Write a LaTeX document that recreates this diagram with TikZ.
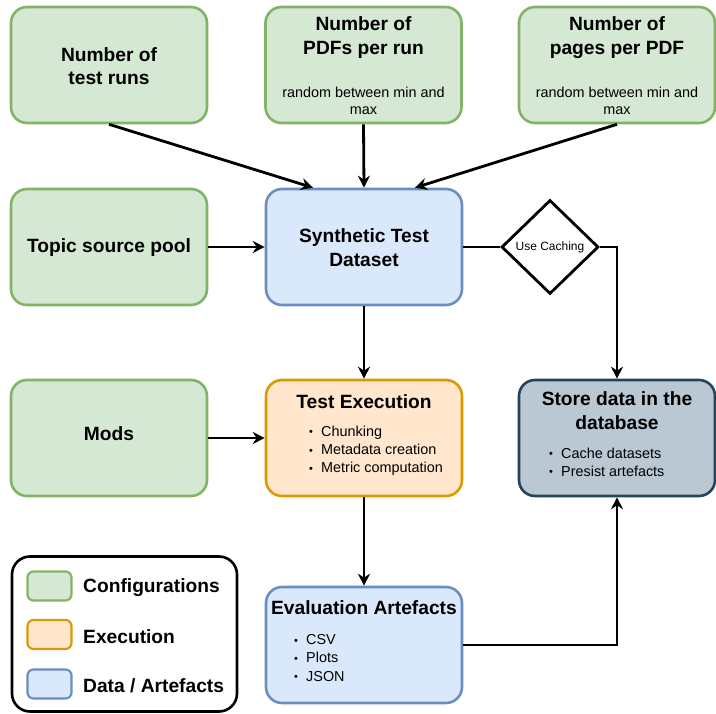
\documentclass[tikz,border=0pt]{standalone}
\usepackage{fontspec}
\setmainfont{Liberation Sans}
\usetikzlibrary{shapes.geometric,arrows.meta}
\definecolor{gF}{HTML}{D5E8D4}\definecolor{gD}{HTML}{82B366}
\definecolor{oF}{HTML}{FFE6CC}\definecolor{oD}{HTML}{D79B00}
\definecolor{bF}{HTML}{DAE8FC}\definecolor{bD}{HTML}{6C8EBF}
\definecolor{sF}{HTML}{BAC8D3}\definecolor{sD}{HTML}{23445D}
\newcommand{\itm}[1]{\makebox[12pt][l]{\fontsize{11}{11}\selectfont\raisebox{0.1ex}{•}}#1}
\begin{document}
\begin{tikzpicture}[x=1pt,y=-1pt,
  box/.style={draw, line width=2.6pt, rounded corners=16pt, minimum width=196pt, minimum height=116pt, inner sep=0pt},
  cfg/.style={box, draw=gD, fill=gF},
  exe/.style={box, draw=oD, fill=oF},
  dat/.style={box, draw=bD, fill=bF},
  sto/.style={box, draw=sD, fill=sF},
  ttl/.style={inner sep=0pt, align=center, font=\fontsize{19.2}{23.5}\selectfont\bfseries},
  sub/.style={inner sep=0pt, align=center, font=\fontsize{14.4}{17.5}\selectfont},
  lst/.style={inner sep=0pt, align=left, anchor=west, font=\fontsize{14.4}{18.2}\selectfont},
  swatch/.style={draw, line width=2.2pt, rounded corners=6pt, minimum width=44pt, minimum height=29pt, inner sep=0pt},
  lgt/.style={inner sep=0pt, anchor=west, font=\fontsize{19.2}{23}\selectfont\bfseries},
  arr/.style={line width=2.8pt, -{Stealth[length=12pt,width=12pt,inset=4pt]}},
  ln/.style={line width=2.8pt},
  dia/.style={draw, diamond, line width=2.8pt, minimum width=97pt, minimum height=94pt, inner sep=0pt, fill=white, font=\fontsize{12}{14}\selectfont}
]
\useasboundingbox (0,0) rectangle (716,714);

% row 1
\node[cfg] (A) at (109,65) {};
\node[ttl] (At) at (109,66) {Number of\\test runs};
\node[cfg] (B) at (363.5,65) {};
\node[ttl] (Bt) at (363.5,37.5) {Number of\\PDFs per run};
\node[sub] (Bs) at (363.5,101) {random between min and\\max};
\node[cfg] (C) at (617,65) {};
\node[ttl] (Ct) at (617,37.5) {Number of\\pages per PDF};
\node[sub] (Cs) at (617,101) {random between min and\\max};

% row 2
\node[cfg] (T) at (109,247) {};
\node[ttl] (Tt) at (109,248) {Topic source pool};
\node[dat] (D) at (364,247) {};
\node[ttl] (Dt) at (364,247.5) {Synthetic Test\\Dataset};
\node[dia] (Q) at (550,247) {Use Caching};

% row 3
\node[cfg] (M) at (109,438) {};
\node[ttl] (Mt) at (109,434) {Mods};
\node[exe] (E) at (364,438) {};
\node[ttl] (Et) at (364,402) {Test Execution};
\node[lst] (El) at (309,451) {\itm{Chunking}\\\itm{Metadata creation}\\\itm{Metric computation}};
\node[sto] (S) at (617,438) {};
\node[ttl] (St) at (617,410.5) {Store data in the\\database};
\node[lst] (Sl) at (549,462) {\itm{Cache datasets}\\\itm{Presist artefacts}};

% row 4
\node[dat] (V) at (364,645) {};
\node[ttl] (Vt) at (364,607.5) {Evaluation Artefacts};
\node[lst] (Vl) at (294,658) {\itm{CSV}\\\itm{Plots}\\\itm{JSON}};

% legend
\node[draw, line width=2.6pt, rounded corners=18pt, minimum width=225pt, minimum height=155pt, inner sep=0pt] (L) at (124.5,634) {};
\node[swatch, draw=gD, fill=gF] (L1) at (49.5,586) {};
\node[swatch, draw=oD, fill=oF] (L2) at (49.5,634.5) {};
\node[swatch, draw=bD, fill=bF] (L3) at (49.5,684) {};
\node[lgt] (L1t) at (83,587.5) {Configurations};
\node[lgt] (L2t) at (83,636.5) {Execution};
\node[lgt] (L3t) at (83,685.5) {Data / Artefacts};

% connectors
\draw[arr] (A.south) -- ([xshift=-51pt]D.north);
\draw[arr] (B.south) -- (D.north);
\draw[arr] (C.south) -- ([xshift=51pt]D.north);
\draw[arr] (T.east) -- (D.west);
\draw[ln] (D.east) -- (Q.west);
\draw[arr] (Q.east) -| (S.north);
\draw[arr] (D.south) -- (E.north);
\draw[arr] (M.east) -- (E.west);
\draw[arr] (E.south) -- (V.north);
\draw[arr] (V.east) -| (S.south);
\end{tikzpicture}
\end{document}
